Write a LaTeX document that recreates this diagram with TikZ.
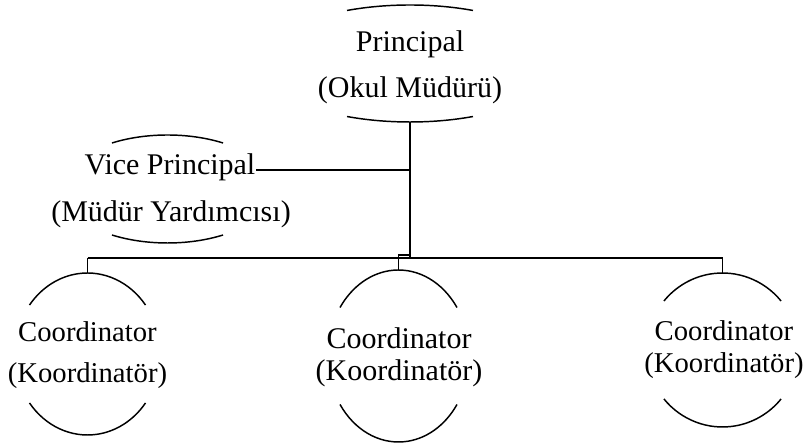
\documentclass[tikz,border=0pt]{standalone}
\usepackage{fontspec}
\setmainfont{Liberation Serif}
\begin{document}
\begin{tikzpicture}[x=0.75pt,y=0.75pt,
  line width=1.1pt, line cap=butt,
  bigtxt/.style={inner sep=0pt, anchor=base, font=\fontsize{22.5}{27}\selectfont},
  crdtxt/.style={inner sep=0pt, anchor=base, font=\fontsize{21.5}{26}\selectfont},
  conn/.style={line width=1.1pt}]
\useasboundingbox (0,0) rectangle (809,448);

% Principal
\node[bigtxt] (prin1) at (410,396) {Principal};
\node[bigtxt] (prin2) at (410,350) {(Okul Müdürü)};
\draw (410,384.5) ++(65:149 and 58.5) arc[start angle=65, end angle=115, x radius=149, y radius=58.5];
\draw (410,384.5) ++(245:149 and 58.5) arc[start angle=245, end angle=295, x radius=149, y radius=58.5];
\coordinate (pbot) at (410,326);

% Vice principal
\node[bigtxt] (vice1) at (170,273) {Vice Principal};
\node[bigtxt] (vice2) at (171,226) {(Müdür Yardımcısı)};
\draw (167.5,259) ++(58.4:106 and 54) arc[start angle=58.4, end angle=121.6, x radius=106, y radius=54];
\draw (167.5,259) ++(238.4:106 and 54) arc[start angle=238.4, end angle=301.6, x radius=106, y radius=54];

% Coordinators
\node[crdtxt] (lc1) at (87.5,106) {Coordinator};
\node[crdtxt] (lc2) at (87.5,65) {(Koordinatör)};
\draw (87.5,94) ++(37.2:72.8 and 81) arc[start angle=37.2, end angle=142.8, x radius=72.8, y radius=81];
\draw (87.5,94) ++(217.2:72.8 and 81) arc[start angle=217.2, end angle=322.8, x radius=72.8, y radius=81];
\coordinate (lt) at (87.5,175);

\node[bigtxt] (cc1) at (399,99) {Coordinator};
\node[bigtxt] (cc2) at (399,67) {(Koordinatör)};
\draw (398.5,92) ++(34.3:70.8 and 86) arc[start angle=34.3, end angle=145.7, x radius=70.8, y radius=86];
\draw (398.5,92) ++(214.3:70.8 and 86) arc[start angle=214.3, end angle=325.7, x radius=70.8, y radius=86];
\coordinate (ct) at (398.5,178);

\node[crdtxt] (rc1) at (724,107) {Coordinator};
\node[crdtxt] (rc2) at (724,75) {(Koordinatör)};
\draw (722.5,98) ++(39.5:75.9 and 77) arc[start angle=39.5, end angle=140.5, x radius=75.9, y radius=77];
\draw (722.5,98) ++(219.5:75.9 and 77) arc[start angle=219.5, end angle=320.5, x radius=75.9, y radius=77];
\coordinate (rt) at (722.5,175);

% connectors
\coordinate (bm) at (410,190);
\coordinate (bl) at (87.5,190);
\coordinate (br) at (722.5,190);
\coordinate (jog) at (410,193);
\coordinate (vj) at (410,278);
\draw[conn] (pbot) -- (bm);
\draw[conn] (bl) -- (br);
\draw[conn] (bl) -- (lt);
\draw[conn] (br) -- (rt);
\draw[conn] (ct) -- (ct |- jog) -- (jog);
\draw[conn] (vice1.east |- vj) -- (vj);
\end{tikzpicture}
\end{document}
